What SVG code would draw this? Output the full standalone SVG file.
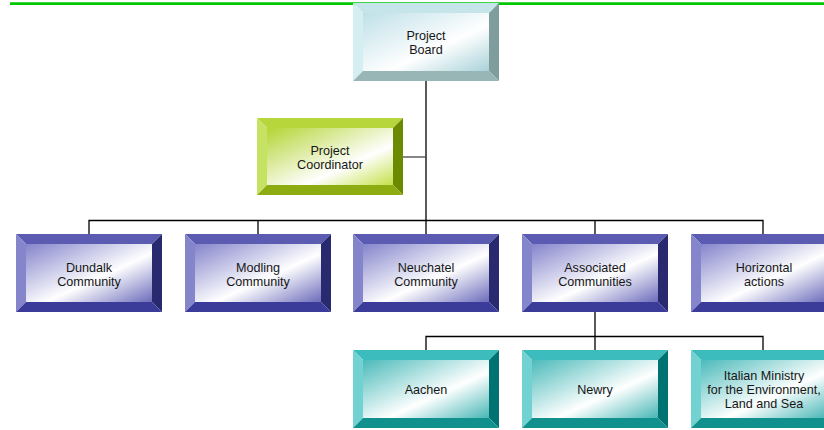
<svg xmlns="http://www.w3.org/2000/svg" width="824" height="430" viewBox="0 0 824 430">
<defs>
<linearGradient id="gPB" x1="0" y1="0" x2="1" y2="1"><stop offset="0" stop-color="#bfe0e8"/><stop offset="0.6" stop-color="#ffffff"/><stop offset="1" stop-color="#a9d2da"/></linearGradient>
<linearGradient id="gPC" x1="0" y1="0" x2="1" y2="1"><stop offset="0" stop-color="#b4d434"/><stop offset="0.65" stop-color="#ffffff"/><stop offset="1" stop-color="#c4e04a"/></linearGradient>
<linearGradient id="gPU" x1="0" y1="0" x2="1" y2="1"><stop offset="0" stop-color="#8484cc"/><stop offset="0.58" stop-color="#ffffff"/><stop offset="1" stop-color="#6c6cbc"/></linearGradient>
<linearGradient id="gTE" x1="0" y1="0" x2="1" y2="1"><stop offset="0" stop-color="#4cbaba"/><stop offset="0.6" stop-color="#ffffff"/><stop offset="1" stop-color="#48b6b6"/></linearGradient>
</defs>
<style>
text{font-family:"Liberation Sans",Arial,sans-serif;font-size:12.6px;fill:#161616;text-anchor:middle}
.pb .t{fill:#c6e5ea}.pb .l{fill:#d4eef1}.pb .r{fill:#7f9d9d}.pb .b{fill:#98b6b6}.pb .f{fill:url(#gPB)}
.pc .t{fill:#b6d63c}.pc .l{fill:#c6e262}.pc .r{fill:#6b8a00}.pc .b{fill:#8dac12}.pc .f{fill:url(#gPC)}
.pu .t{fill:#5b5bb2}.pu .l{fill:#8585cc}.pu .r{fill:#292970}.pu .b{fill:#3b3b9a}.pu .f{fill:url(#gPU)}
.te .t{fill:#3cbcbc}.te .l{fill:#72d2d2}.te .r{fill:#007272}.te .b{fill:#10918d}.te .f{fill:url(#gTE)}
.c{stroke:#000;stroke-width:1.3;fill:none}
</style>
<line x1="10" y1="3.6" x2="824" y2="3.6" stroke="#00c800" stroke-width="2.6"/>
<g id="connectors">
<path class="c" d="M426 81V234M89 234V220.5H763V234M258 220.5V234M595 220.5V234"/>
<path d="M403 157H426" stroke="#444" stroke-width="1.3"/>
<path class="c" d="M595 312V336.5M426 350V336.5H763V350M595 336.5V350"/>
</g>
<g id="project-board" class="pb" transform="translate(353,3)">
<polygon class="t" points="0,0 146,0 136,10 10,10"/><polygon class="l" points="0,0 10,10 10,68 0,78"/><polygon class="r" points="146,0 146,78 136,68 136,10"/><polygon class="b" points="0,78 10,68 136,68 146,78"/><rect class="f" x="10" y="10" width="126" height="58"/>
<text x="73" y="36.5">Project</text><text x="73" y="50.5">Board</text>
</g>
<g id="project-coordinator" class="pc" transform="translate(257,118)">
<polygon class="t" points="0,0 146,0 136,10 10,10"/><polygon class="l" points="0,0 10,10 10,67 0,77"/><polygon class="r" points="146,0 146,77 136,67 136,10"/><polygon class="b" points="0,77 10,67 136,67 146,77"/><rect class="f" x="10" y="10" width="126" height="57"/>
<text x="73" y="36.5">Project</text><text x="73" y="50.5">Coordinator</text>
</g>
<g id="dundalk" class="pu" transform="translate(16,234)">
<polygon class="t" points="0,0 146,0 136,10 10,10"/><polygon class="l" points="0,0 10,10 10,68 0,78"/><polygon class="r" points="146,0 146,78 136,68 136,10"/><polygon class="b" points="0,78 10,68 136,68 146,78"/><rect class="f" x="10" y="10" width="126" height="58"/>
<text x="73" y="37.5">Dundalk</text><text x="73" y="51.5">Community</text>
</g>
<g id="modling" class="pu" transform="translate(185,234)">
<polygon class="t" points="0,0 146,0 136,10 10,10"/><polygon class="l" points="0,0 10,10 10,68 0,78"/><polygon class="r" points="146,0 146,78 136,68 136,10"/><polygon class="b" points="0,78 10,68 136,68 146,78"/><rect class="f" x="10" y="10" width="126" height="58"/>
<text x="73" y="37.5">Modling</text><text x="73" y="51.5">Community</text>
</g>
<g id="neuchatel" class="pu" transform="translate(353,234)">
<polygon class="t" points="0,0 146,0 136,10 10,10"/><polygon class="l" points="0,0 10,10 10,68 0,78"/><polygon class="r" points="146,0 146,78 136,68 136,10"/><polygon class="b" points="0,78 10,68 136,68 146,78"/><rect class="f" x="10" y="10" width="126" height="58"/>
<text x="73" y="37.5">Neuchatel</text><text x="73" y="51.5">Community</text>
</g>
<g id="associated" class="pu" transform="translate(522,234)">
<polygon class="t" points="0,0 146,0 136,10 10,10"/><polygon class="l" points="0,0 10,10 10,68 0,78"/><polygon class="r" points="146,0 146,78 136,68 136,10"/><polygon class="b" points="0,78 10,68 136,68 146,78"/><rect class="f" x="10" y="10" width="126" height="58"/>
<text x="73" y="37.5">Associated</text><text x="73" y="51.5">Communities</text>
</g>
<g id="horizontal" class="pu" transform="translate(691,234)">
<polygon class="t" points="0,0 146,0 136,10 10,10"/><polygon class="l" points="0,0 10,10 10,68 0,78"/><polygon class="r" points="146,0 146,78 136,68 136,10"/><polygon class="b" points="0,78 10,68 136,68 146,78"/><rect class="f" x="10" y="10" width="126" height="58"/>
<text x="73" y="37.5">Horizontal</text><text x="73" y="51.5">actions</text>
</g>
<g id="aachen" class="te" transform="translate(353,350)">
<polygon class="t" points="0,0 146,0 136,10 10,10"/><polygon class="l" points="0,0 10,10 10,68 0,78"/><polygon class="r" points="146,0 146,78 136,68 136,10"/><polygon class="b" points="0,78 10,68 136,68 146,78"/><rect class="f" x="10" y="10" width="126" height="58"/>
<text x="73" y="43.5">Aachen</text>
</g>
<g id="newry" class="te" transform="translate(522,350)">
<polygon class="t" points="0,0 146,0 136,10 10,10"/><polygon class="l" points="0,0 10,10 10,68 0,78"/><polygon class="r" points="146,0 146,78 136,68 136,10"/><polygon class="b" points="0,78 10,68 136,68 146,78"/><rect class="f" x="10" y="10" width="126" height="58"/>
<text x="73" y="43.5">Newry</text>
</g>
<g id="italian" class="te" transform="translate(691,350)">
<polygon class="t" points="0,0 146,0 136,10 10,10"/><polygon class="l" points="0,0 10,10 10,68 0,78"/><polygon class="r" points="146,0 146,78 136,68 136,10"/><polygon class="b" points="0,78 10,68 136,68 146,78"/><rect class="f" x="10" y="10" width="126" height="58"/>
<text x="73" y="29.5">Italian Ministry</text><text x="73" y="43.5">for the Environment,</text><text x="73" y="57.5">Land and Sea</text>
</g>
</svg>
